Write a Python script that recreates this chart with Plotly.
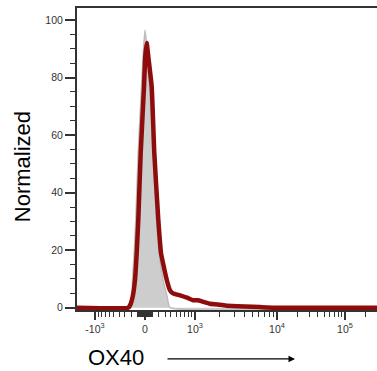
import numpy as np
import plotly.graph_objects as go

# ---- data (display units: 0 = OX40 value 0, axis is biexponential-like) ----
major_vals = [-1000, 0, 1000, 10000, 100000]
major_labels = ["-10<sup>3</sup>", "0", "10<sup>3</sup>", "10<sup>4</sup>", "10<sup>5</sup>"]
decade_pos = [50, 132, 200]          # display positions of 1e3, 1e4, 1e5

iso_x = [-68, -14, -12.5, -10.8, -9.2, -6.8, -3.5, -1.5, 0, 2, 4.5, 8, 11.5, 14, 18, 22, 25, 232]
iso_y = [0, 0, 9.7, 19, 30.6, 53.8, 76.8, 90, 96.5, 90, 76.8, 53.8, 30.6, 19, 9.7, 4, 0, 0]

ox_x = [-68, -17, -15, -12.3, -10, -8.3, -6.7, -4.3, -1, 0.2, 1.7, 3.4, 6.7, 9.3, 13.3, 16, 21.7, 25, 28, 35, 42, 48, 53, 57, 65, 75, 82, 100, 115, 130, 232]
ox_y = [0, 0, 0.8, 3.9, 9.7, 19, 30.6, 53.8, 76.8, 87, 92, 87, 76.8, 53.8, 30.6, 19, 9.7, 6, 5, 4.3, 3.5, 2.6, 2.6, 2.2, 1.4, 1.0, 0.7, 0.4, 0.2, 0, 0]

C = 459.0
def disp(v):
    v = float(v)
    if abs(v) <= 1000:
        return 50 * np.arcsinh(v / C) / np.arcsinh(1000 / C)
    if v > 0:
        lv = np.log10(v)
        if lv <= 5:
            return float(np.interp(lv, [3, 4, 5], decade_pos))
        return decade_pos[-1] + (lv - 5) * (decade_pos[2] - decade_pos[1])
    return -50

major_pos = [disp(v) for v in major_vals]
minor_vals = []
for s in (-1, 1):
    minor_vals += [s * k for k in range(100, 1000, 100)]
    minor_vals += [s * k for k in range(10, 100, 10)]
for d in (1000, 10000, 100000):
    minor_vals += [m * d for m in range(2, 10)]
minor_pos = [disp(v) for v in minor_vals if disp(v) < 232]

fig = go.Figure()
fig.add_trace(go.Scatter(x=iso_x, y=iso_y, mode="lines", line=dict(color="#bdbdbd", width=1.5, shape="spline", smoothing=0.4),
                         fill="tozeroy", fillcolor="#cdcdcd", hoverinfo="skip"))
fig.add_trace(go.Scatter(x=ox_x, y=ox_y, mode="lines", line=dict(color="#8e0c0c", width=4.5, shape="spline", smoothing=0.4),
                         hoverinfo="skip"))

axcol = "#333333"
fig.update_layout(
    width=377, height=371,
    margin=dict(l=77, r=0, t=6, b=61),
    paper_bgcolor="white", plot_bgcolor="white",
    showlegend=False,
    font=dict(family="Liberation Sans, Arial", color=axcol),
    xaxis=dict(range=[-68, 232], showgrid=False, zeroline=False,
               showline=True, linecolor=axcol, linewidth=2, layer="below traces",
               tickmode="array", tickvals=major_pos, ticktext=major_labels,
               ticks="outside", ticklen=8, tickwidth=1.5, tickcolor=axcol,
               tickfont=dict(size=10.5, color=axcol),
               minor=dict(tickmode="array", tickvals=minor_pos, ticks="outside", ticklen=5, tickwidth=1, tickcolor=axcol)),
    yaxis=dict(range=[-0.8, 104.9], showgrid=False, zeroline=False,
               showline=True, linecolor=axcol, linewidth=2, layer="below traces",
               tickmode="array", tickvals=[0, 20, 40, 60, 80, 100],
               ticks="outside", ticklen=10, tickwidth=1.5, tickcolor=axcol,
               tickfont=dict(size=10.5, color=axcol),
               minor=dict(tickmode="array", tickvals=[v for v in range(5, 105, 5) if v % 20], ticks="outside", ticklen=5, tickwidth=1.2, tickcolor=axcol)),
    shapes=[dict(type="line", xref="paper", yref="paper", x0=-0.003, x1=1, y0=0.9967, y1=0.9967,
                 line=dict(color=axcol, width=2.2), layer="above")],
    annotations=[
        dict(text="Normalized", xref="paper", yref="paper", x=-0.183, y=0.47, textangle=-90,
             showarrow=False, font=dict(size=22, color="black"), xanchor="center", yanchor="middle"),
        dict(text="OX40", xref="paper", yref="paper", x=0.13, y=-0.155,
             showarrow=False, font=dict(size=22, color="black"), xanchor="center", yanchor="middle"),
        dict(text="", xref="paper", yref="paper", x=0.7267, y=-0.161, ax=-129, ay=0,
             showarrow=True, arrowhead=2, arrowsize=1, arrowwidth=1.3, arrowcolor="black"),
    ],
)
fig.write_html("out.html", config={"displayModeBar": False},
               post_script="document.body.style.margin='0';document.body.style.overflow='hidden';")
